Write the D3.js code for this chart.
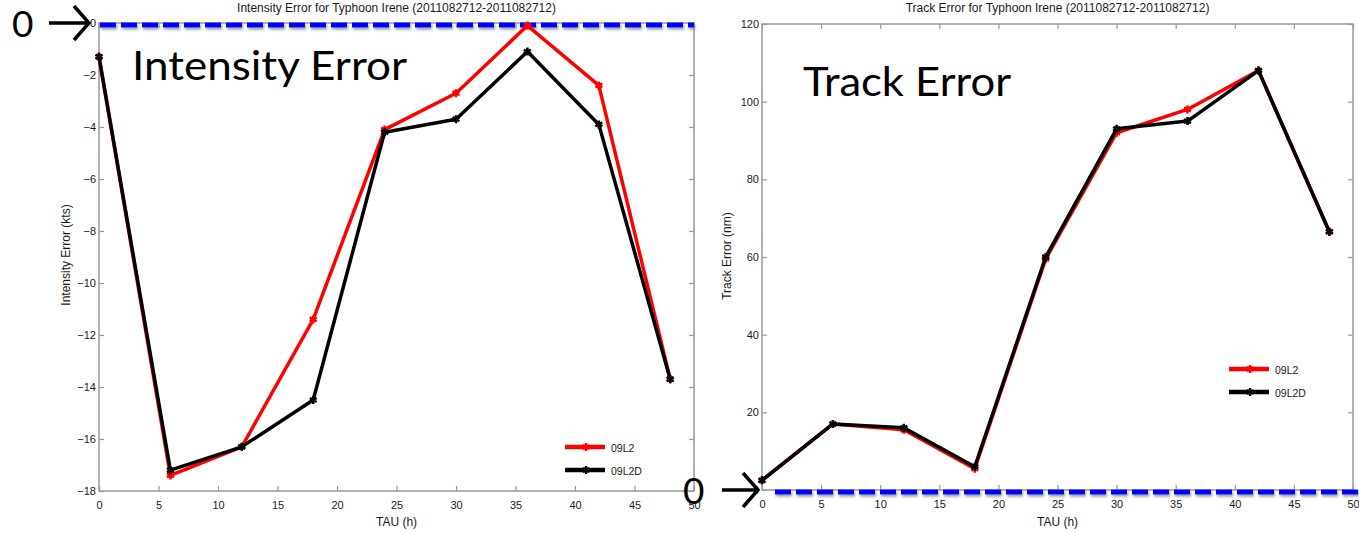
<!DOCTYPE html>
<html>
<head>
<meta charset="utf-8">
<script src="https://cdn.jsdelivr.net/npm/d3@7"></script>
<style>
  body { margin: 0; background: #fff; }
  svg { display: block; }
  .tick text { font-family: "Liberation Sans", Arial, sans-serif; font-size: 11px; fill: #1a1a1a; }
  .small { font-family: "Liberation Sans", Arial, sans-serif; font-size: 12px; fill: #1a1a1a; }
  .legend { font-family: "Liberation Sans", Arial, sans-serif; font-size: 10.5px; fill: #1a1a1a; }
  .big { font-family: Lato, "Open Sans", sans-serif; font-size: 40px; fill: #000; }
</style>
</head>
<body>
<div id="chart"></div>
<script>
'use strict';

// forecast hours
const tau = [0, 6, 12, 18, 24, 30, 36, 42, 48];

// intensity error (kts)
const intensity09L2  = [-1.3, -17.4, -16.3, -11.4, -4.1, -2.7, -0.1, -2.4, -13.7];
const intensity09L2D = [-1.3, -17.2, -16.3, -14.5, -4.2, -3.7, -1.1, -3.9, -13.7];

// track error (nm)
const track09L2  = [2.5, 17, 15.5, 5.5, 59.5, 92, 98, 108, 66.5];
const track09L2D = [2.5, 17, 16, 6, 60, 93, 95, 108, 66.5];

const seriesNames = ['09L2', '09L2D'];
const seriesColors = ['#ff0000', '#000000'];

const xTicks = [0, 5, 10, 15, 20, 25, 30, 35, 40, 45, 50];
const intensityTicks = [0, -2, -4, -6, -8, -10, -12, -14, -16, -18];
const trackTicks = [0, 20, 40, 60, 80, 100, 120];

const width = 1359, height = 533;

const svg = d3.select('#chart').append('svg')
    .attr('width', width)
    .attr('height', height);

svg.append('rect').attr('width', width).attr('height', height).attr('fill', '#fff');

var defs = svg.append('defs');
var shadow = defs.append('filter').attr('id', 'shadow')
    .attr('filterUnits', 'userSpaceOnUse')
    .attr('x', 0).attr('y', 0).attr('width', width).attr('height', height);
shadow.append('feDropShadow')
    .attr('dx', 1).attr('dy', 2).attr('stdDeviation', 1.5)
    .attr('flood-color', '#777').attr('flood-opacity', 0.8);

const panels = [
    {
        title: 'Intensity Error for Typhoon Irene (2011082712-2011082712)',
        yLabel: 'Intensity Error (kts)',
        note: 'Intensity Error',
        left: 99, right: 694, top: 23, bottom: 491,
        yDomain: [-18, 0], yTicks: intensityTicks,
        series: [intensity09L2, intensity09L2D],
        yLabelX: 66, yLabelY: 255,
        legend: { x: 565, y: 447 },
        notePos: { x: 132, y: 80, len: 275 },
        zero: { digitX: 12, arrowX0: 49, arrowX1: 89, dashX0: 100, dashX1: 694 }
    },
    {
        title: 'Track Error for Typhoon Irene (2011082712-2011082712)',
        yLabel: 'Track Error (nm)',
        note: 'Track Error',
        left: 762, right: 1353, top: 24, bottom: 490,
        yDomain: [0, 120], yTicks: trackTicks,
        series: [track09L2, track09L2D],
        yLabelX: 727, yLabelY: 256,
        legend: { x: 1229, y: 369 },
        notePos: { x: 803, y: 96, len: 208 },
        zero: { digitX: 683, arrowX0: 722, arrowX1: 758, dashX0: 775, dashX1: 1359 }
    }
];

panels.forEach(drawPanel);

function drawPanel(p) {
    var x = d3.scaleLinear().domain([0, 50]).range([p.left, p.right]);
    var y = d3.scaleLinear().domain(p.yDomain).range([p.bottom, p.top]);
    var g = svg.append('g');

    // box with inward ticks on all four sides
    g.append('rect')
        .attr('x', p.left).attr('y', p.top)
        .attr('width', p.right - p.left).attr('height', p.bottom - p.top)
        .attr('fill', 'none').attr('stroke', '#999').attr('stroke-width', 1.5);

    var axes = [
        g.append('g').attr('transform', 'translate(0,' + p.bottom + ')')
            .call(d3.axisBottom(x).tickValues(xTicks).tickSize(-5).tickPadding(10)),
        g.append('g').attr('transform', 'translate(0,' + p.top + ')')
            .call(d3.axisTop(x).tickValues(xTicks).tickSize(-5).tickFormat('')),
        g.append('g').attr('transform', 'translate(' + p.left + ',0)')
            .call(d3.axisLeft(y).tickValues(p.yTicks).tickSize(-5).tickPadding(3)),
        g.append('g').attr('transform', 'translate(' + p.right + ',0)')
            .call(d3.axisRight(y).tickValues(p.yTicks).tickSize(-5).tickFormat(''))
    ];
    axes.forEach(function(a) {
        a.select('.domain').remove();
        a.selectAll('.tick line').attr('stroke', '#999').attr('stroke-width', 1.2);
    });

    // titles and axis labels
    g.append('text').attr('class', 'small')
        .attr('x', (p.left + p.right) / 2).attr('y', 12)
        .attr('text-anchor', 'middle').text(p.title);
    g.append('text').attr('class', 'small')
        .attr('x', (p.left + p.right) / 2).attr('y', 526)
        .attr('text-anchor', 'middle').text('TAU (h)');
    g.append('text').attr('class', 'small')
        .attr('transform', 'translate(' + (p.yLabelX + 4) + ',' + p.yLabelY + ') rotate(-90)')
        .attr('text-anchor', 'middle').text(p.yLabel);

    // zero reference line (blue dashes)
    g.append('line')
        .attr('x1', p.zero.dashX0).attr('x2', p.zero.dashX1)
        .attr('y1', y(0) + 2).attr('y2', y(0) + 2)
        .attr('stroke', '#0000ff').attr('stroke-width', 5)
        .attr('stroke-dasharray', '16 5')
        .attr('filter', 'url(#shadow)');

    // series lines + asterisk markers
    var line = d3.line()
        .x(function(d, i) { return x(tau[i]); })
        .y(function(d) { return y(d); });
    var star = d3.symbol().type(d3.symbolAsterisk).size(45);

    p.series.forEach(function(vals, s) {
        g.append('path')
            .attr('d', line(vals))
            .attr('fill', 'none')
            .attr('stroke', seriesColors[s])
            .attr('stroke-width', 3.5)
            .attr('stroke-linejoin', 'round');
        g.selectAll('.m' + s).data(vals).enter().append('path')
            .attr('class', 'm' + s)
            .attr('transform', function(d, i) { return 'translate(' + x(tau[i]) + ',' + y(d) + ')'; })
            .attr('d', star)
            .attr('fill', 'none')
            .attr('stroke', seriesColors[s])
            .attr('stroke-width', 2.5);
    });

    // legend
    seriesNames.forEach(function(name, s) {
        var ly = p.legend.y + s * 23;
        g.append('line')
            .attr('x1', p.legend.x).attr('x2', p.legend.x + 40)
            .attr('y1', ly).attr('y2', ly)
            .attr('stroke', seriesColors[s]).attr('stroke-width', 4.5);
        g.append('path')
            .attr('transform', 'translate(' + (p.legend.x + 21) + ',' + ly + ')')
            .attr('d', star)
            .attr('fill', 'none').attr('stroke', seriesColors[s]).attr('stroke-width', 2.5);
        g.append('text').attr('class', 'legend')
            .attr('x', p.legend.x + 46).attr('y', ly + 5)
            .text(name);
    });

    // big overlay annotations
    g.append('text').attr('class', 'big')
        .attr('x', p.notePos.x).attr('y', p.notePos.y)
        .attr('textLength', p.notePos.len).attr('lengthAdjust', 'spacingAndGlyphs')
        .text(p.note);

    var zy = y(0);
    g.append('text').attr('class', 'big')
        .style('font-size', '37px')
        .attr('x', p.zero.digitX).attr('y', zy + 14)
        .text('0');
    g.append('path')
        .attr('d', 'M' + p.zero.arrowX0 + ',' + zy + 'H' + p.zero.arrowX1 +
            'M' + (p.zero.arrowX1 - 15) + ',' + (zy - 17) + 'L' + p.zero.arrowX1 + ',' + zy +
            'L' + (p.zero.arrowX1 - 15) + ',' + (zy + 17))
        .attr('fill', 'none').attr('stroke', '#000').attr('stroke-width', 3.5);
}
</script>
</body>
</html>
